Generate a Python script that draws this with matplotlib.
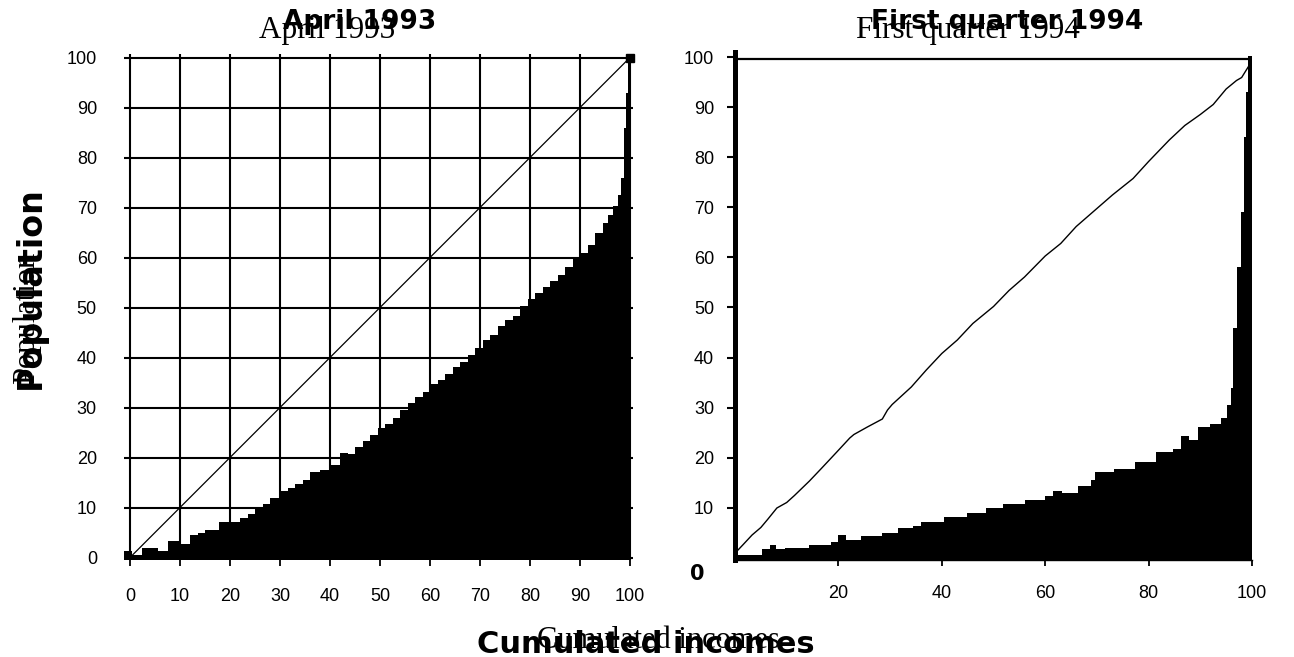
import matplotlib
matplotlib.use("Agg")
import matplotlib.pyplot as plt

W, H = 1294, 657

# April 1993: step heights of the cumulated population curve
apr_edges = [-1.2, 0.3, 2.3, 3.8, 5.6, 7.5, 9.8, 12, 13.5, 15, 17.7, 20, 22, 23.5, 25,
             26.5, 28, 30, 31.5, 33, 34.5, 36, 38, 40, 42, 43.5, 45, 46.5, 48, 49.5,
             51, 52.5, 54, 55.5, 57, 58.5, 60, 61.5, 63, 64.5, 66, 67.5, 69, 70.5, 72,
             73.5, 75, 76.5, 78, 79.5, 81, 82.5, 84, 85.5, 87, 88.5, 90, 91.5, 93, 94.5,
             95.5, 96.5, 97.5, 98.2, 98.7, 99.1, 99.5, 100.2]
apr_pop = [1.3, 0.6, 1.9, 2.0, 1.4, 3.4, 2.8, 4.6, 5.0, 5.5, 7.1, 7.2, 8.0, 8.8,
           10.0, 10.8, 12.0, 13.4, 14.0, 14.8, 15.5, 17.2, 17.6, 18.6, 21.0, 20.8,
           22.2, 23.4, 24.6, 26.0, 26.8, 28.0, 29.5, 31.0, 32.2, 33.2, 34.8, 35.5,
           36.8, 38.2, 39.2, 40.6, 42.0, 43.5, 44.6, 46.4, 47.6, 48.4, 50.4, 51.8,
           53.0, 54.2, 55.4, 56.6, 58.2, 60.2, 61.0, 62.6, 65.0, 67.0, 68.6, 70.4,
           72.5, 76.0, 86.0, 93.0, 100.4]

# First quarter 1994
q1_edges = [0, 5.2, 6.8, 8, 9.6, 14.4, 18.5, 20, 21.5, 24.4, 28.5, 31.5, 34.4, 35.9,
            40.4, 44.8, 48.5, 51.9, 56, 60, 61.5, 63.3, 66.3, 68.9, 69.6, 73.3, 77.4,
            81.5, 84.8, 86.3, 87.8, 89.6, 91.9, 94.1, 95.2, 95.9, 96.4, 97.1, 97.9,
            98.4, 98.9, 99.3, 100]
q1_pop = [0.6, 1.8, 2.5, 1.8, 2.0, 2.5, 3.2, 4.5, 3.5, 4.3, 5.0, 5.9, 6.4, 7.1, 8.2,
          9.0, 9.9, 10.7, 11.5, 12.4, 13.4, 13.0, 14.3, 15.6, 17.2, 17.7, 19.2, 21.1,
          21.7, 24.3, 23.6, 26.1, 26.8, 28.0, 30.5, 34.0, 46.0, 58.0, 69.0, 84.0,
          93.0, 100.3]

# near-diagonal reference line on the 1994 panel
q1_line_x = [0.4, 1.5, 3.3, 5, 6.3, 8.1, 10, 11.5, 14.4, 16.7, 19.6, 22.2, 23, 25.6,
             28.5, 29.5, 30.4, 34.1, 37, 40, 43, 46, 50, 53, 56, 60, 63, 66, 70, 73,
             77, 80, 84, 87, 90, 92.5, 95, 97, 98, 99.5]
q1_line_y = [1.3, 2.5, 4.5, 6, 7.6, 9.9, 11, 12.4, 15.3, 17.8, 21, 23.9, 24.6, 26.1,
             27.7, 29.5, 30.6, 34.1, 37.5, 40.8, 43.5, 46.8, 50.2, 53.4, 56.1, 60.3,
             62.8, 66.2, 69.8, 72.5, 75.8, 79.2, 83.5, 86.4, 88.6, 90.6, 93.7, 95.4,
             96, 98.5]

apr_xticks = list(range(0, 101, 10))
apr_yticks = list(range(0, 101, 10))
q1_xticks = [20, 40, 60, 80, 100]
q1_yticks = list(range(10, 101, 10))

tick_font = dict(family="Liberation Sans", size=13)
bold = dict(family="DejaVu Sans", weight="bold", color="black")
serif = dict(family="Liberation Serif", color="black")


def box(x0, y0, x1, y1):
    return [x0 / W, 1 - y1 / H, (x1 - x0) / W, (y1 - y0) / H]


fig = plt.figure(figsize=(W / 100, H / 100), dpi=100)

# left panel
ax1 = fig.add_axes(box(124, 53.5, 633, 559.5))
ax1.set_xlim(-1.2, 100.6)
ax1.set_ylim(-0.4, 100.8)
ax1.set_axisbelow(True)
ax1.set_xticks(apr_xticks)
ax1.set_yticks(apr_yticks)
ax1.grid(True, color="black", lw=1.5)
ax1.stairs(apr_pop, apr_edges, fill=True, baseline=-0.4, color="black", zorder=2)
ax1.plot([0, 100], [0, 100], color="black", lw=0.9, zorder=3)
ax1.plot([100], [100], marker="s", ms=6, color="black", clip_on=False, zorder=4)
for s in ax1.spines.values():
    s.set_visible(False)
ax1.tick_params(axis="x", direction="out", length=4, width=1.3, pad=16.5)
ax1.tick_params(axis="y", length=0, pad=19.5)
for lab in ax1.get_xticklabels() + ax1.get_yticklabels():
    lab.set_fontfamily(tick_font["family"])
    lab.set_fontsize(tick_font["size"])

# right panel
ax2 = fig.add_axes(box(735, 52.5, 1252, 560))
ax2.set_xlim(0, 100)
ax2.set_ylim(-0.5, 101)
ax2.stairs(q1_pop, q1_edges, fill=True, baseline=-0.5, color="black", zorder=2)
ax2.plot(q1_line_x, q1_line_y, color="black", lw=1.0, zorder=3)
ax2.plot([0, 100], [99.6, 99.6], color="black", lw=1.6, zorder=3)
ax2.spines["top"].set_visible(False)
ax2.spines["right"].set_visible(False)
ax2.spines["left"].set_linewidth(3.6)
ax2.spines["bottom"].set_linewidth(1.0)
ax2.set_xticks(q1_xticks)
ax2.set_yticks(q1_yticks)
ax2.tick_params(axis="x", direction="out", length=4, width=1.3, pad=14)
ax2.tick_params(axis="y", direction="out", length=6, width=1.5, pad=9)
for lab in ax2.get_xticklabels() + ax2.get_yticklabels():
    lab.set_fontfamily(tick_font["family"])
    lab.set_fontsize(tick_font["size"])
fig.text(697 / W, 1 - 574 / H, "0", ha="center", va="center", size=15, **bold)

# titles and axis labels (bold and plain versions overlaid)
fig.text(360 / W, 1 - 29 / H, "April 1993", ha="center", va="baseline", size=19, **bold)
fig.text(327 / W, 1 - 38 / H, "April 1993", ha="center", va="baseline", size=22.5, **serif)
fig.text(1007 / W, 1 - 29 / H, "First quarter 1994", ha="center", va="baseline", size=19, **bold)
fig.text(968 / W, 1 - 38 / H, "First quarter 1994", ha="center", va="baseline", size=22.5, **serif)

fig.text(646 / W, 1 - 653 / H, "Cumulated incomes", ha="center", va="baseline", size=22, **bold)
fig.text(658 / W, 1 - 648 / H, "Cumulated incomes", ha="center", va="baseline", size=22, **serif)
fig.text(30 / W, 1 - 288 / H, "Population", rotation=90, ha="center", va="center", size=24, **bold)
fig.text(27 / W, 1 - 318 / H, "Population", rotation=90, ha="center", va="center", size=22, **serif)

fig.savefig("out.png", dpi=100)
